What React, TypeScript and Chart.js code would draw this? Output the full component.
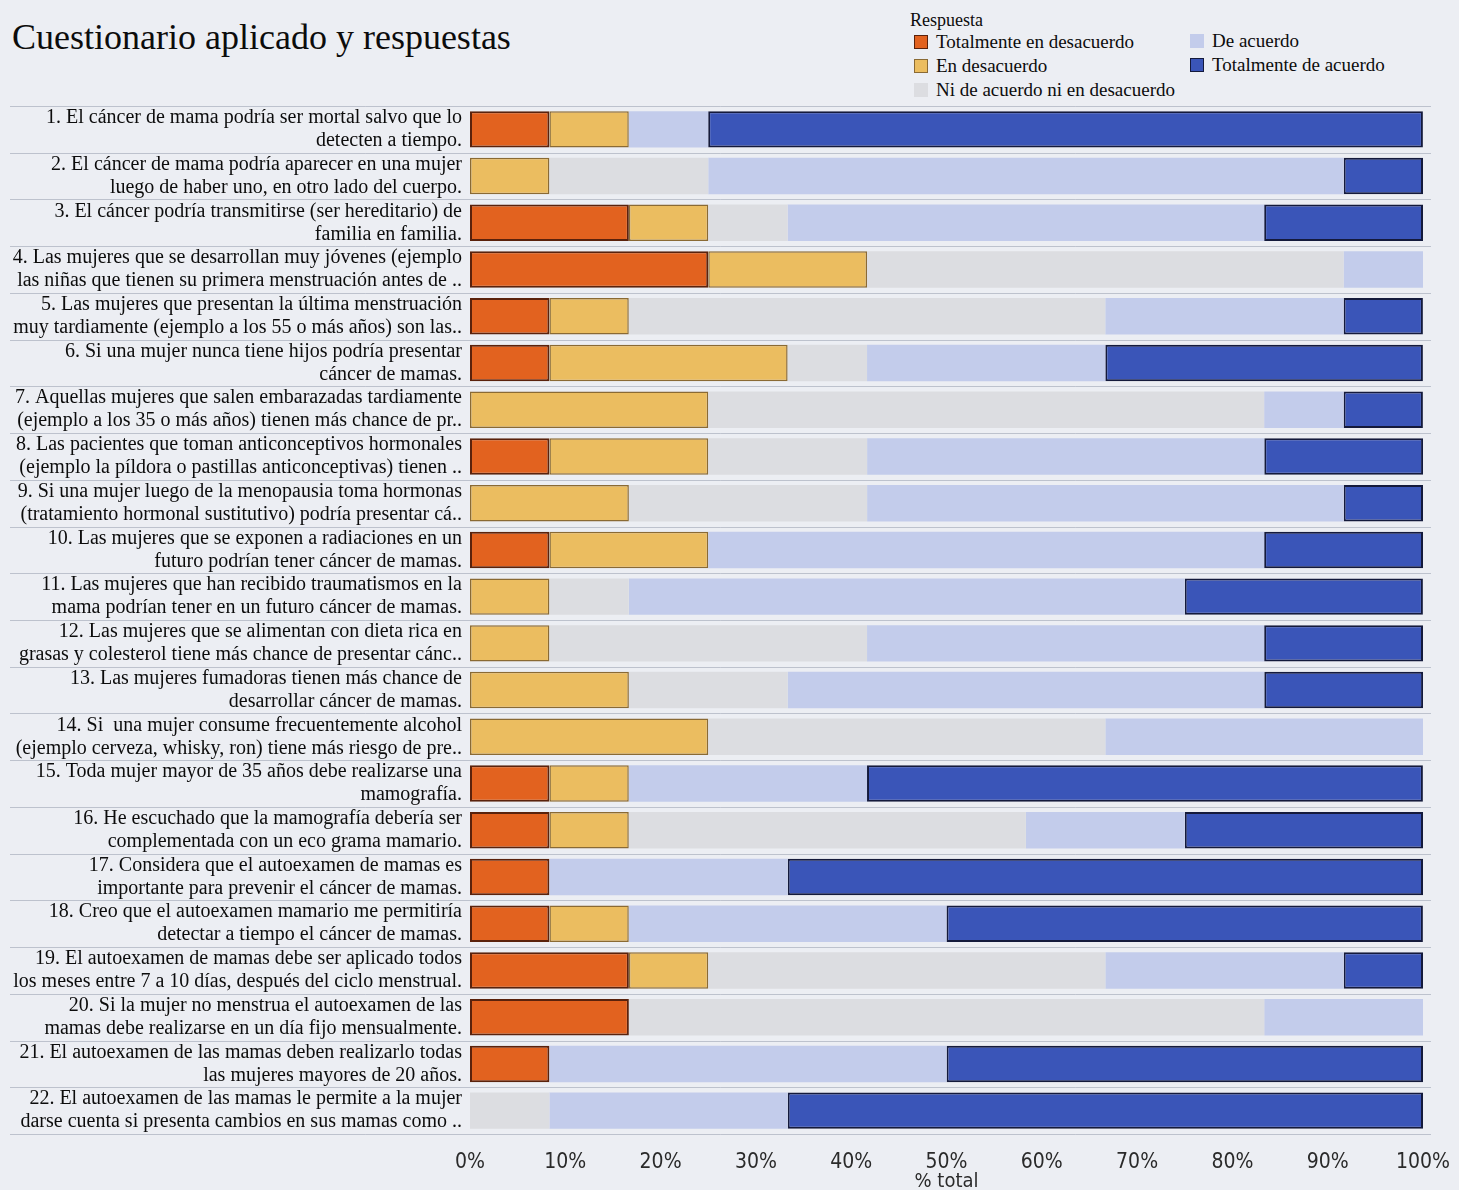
import React, { useEffect, useRef } from "react";
import { Chart, registerables } from "chart.js";

Chart.register(...registerables);

// ---------- data ----------
const questions: string[][] = [
  ["1. El cáncer de mama podría ser mortal salvo que lo", "detecten a tiempo."],
  ["2. El cáncer de mama podría aparecer en una mujer", "luego de haber uno, en otro lado del cuerpo."],
  ["3. El cáncer podría transmitirse (ser hereditario) de", "familia en familia."],
  ["4. Las mujeres que se desarrollan muy jóvenes (ejemplo", "las niñas que tienen su primera menstruación antes de .."],
  ["5. Las mujeres que presentan la última menstruación", "muy tardiamente (ejemplo a los 55 o más años) son las.."],
  ["6. Si una mujer nunca tiene hijos podría presentar", "cáncer de mamas."],
  ["7. Aquellas mujeres que salen embarazadas tardiamente", "(ejemplo a los 35 o más años) tienen más chance de pr.."],
  ["8. Las pacientes que toman anticonceptivos hormonales", "(ejemplo la píldora o pastillas anticonceptivas) tienen .."],
  ["9. Si una mujer luego de la menopausia toma hormonas", "(tratamiento hormonal sustitutivo) podría presentar cá.."],
  ["10. Las mujeres que se exponen a radiaciones en un", "futuro podrían tener cáncer de mamas."],
  ["11. Las mujeres que han recibido traumatismos en la", "mama podrían tener en un futuro cáncer de mamas."],
  ["12. Las mujeres que se alimentan con dieta rica en", "grasas y colesterol tiene más chance de presentar cánc.."],
  ["13. Las mujeres fumadoras tienen más chance de", "desarrollar cáncer de mamas."],
  ["14. Si  una mujer consume frecuentemente alcohol", "(ejemplo cerveza, whisky, ron) tiene más riesgo de pre.."],
  ["15. Toda mujer mayor de 35 años debe realizarse una", "mamografía."],
  ["16. He escuchado que la mamografía debería ser", "complementada con un eco grama mamario."],
  ["17. Considera que el autoexamen de mamas es", "importante para prevenir el cáncer de mamas."],
  ["18. Creo que el autoexamen mamario me permitiría", "detectar a tiempo el cáncer de mamas."],
  ["19. El autoexamen de mamas debe ser aplicado todos", "los meses entre 7 a 10 días, después del ciclo menstrual."],
  ["20. Si la mujer no menstrua el autoexamen de las", "mamas debe realizarse en un día fijo mensualmente."],
  ["21. El autoexamen de las mamas deben realizarlo todas", "las mujeres mayores de 20 años."],
  ["22. El autoexamen de las mamas le permite a la mujer", "darse cuenta si presenta cambios en sus mamas como .."],
];

const seriesNames = [
  "Totalmente en desacuerdo",
  "En desacuerdo",
  "Ni de acuerdo ni en desacuerdo",
  "De acuerdo",
  "Totalmente de acuerdo",
];

// % of total per question
const totalmenteEnDesacuerdo = [8.33, 0, 16.67, 25, 8.33, 8.33, 0, 8.33, 0, 8.33, 0, 0, 0, 0, 8.33, 8.33, 8.33, 8.33, 16.67, 16.67, 8.33, 0];
const enDesacuerdo = [8.33, 8.33, 8.33, 16.67, 8.33, 25, 25, 16.67, 16.67, 16.67, 8.33, 8.33, 16.67, 25, 8.33, 8.33, 0, 8.33, 8.33, 0, 0, 0];
const niDeAcuerdo = [0, 16.67, 8.33, 50, 50, 8.33, 58.33, 16.67, 25, 0, 8.33, 33.33, 16.67, 41.67, 0, 41.67, 0, 0, 41.67, 66.67, 0, 8.33];
const deAcuerdo = [8.33, 66.67, 50, 8.33, 25, 25, 8.33, 41.67, 50, 58.33, 58.33, 41.67, 50, 33.33, 25, 16.67, 25, 33.33, 25, 16.67, 41.67, 25];
const totalmenteDeAcuerdo = [75, 8.33, 16.67, 0, 8.33, 33.33, 8.33, 16.67, 8.33, 16.67, 25, 16.67, 16.67, 0, 58.33, 25, 66.67, 50, 8.33, 0, 50, 66.67];

const xTickValues = [0, 10, 20, 30, 40, 50, 60, 70, 80, 90, 100];

// ---------- styles ----------
const fillColors = ["#E2621F", "#EBBD60", "#DCDDE1", "#C3CCEB", "#3A55B8"];
const borderColors = ["#5a220c", "#8a6a34", "#DCDDE1", "#C3CCEB", "#141a3c"];
const borderWidths = [2, 1.5, 0, 0, 2];
const BG = "#ECEEF3";
const SERIF = "'Liberation Serif', 'Times New Roman', serif";
const NARROW = "'Liberation Sans Narrow', 'DejaVu Sans Condensed', 'Liberation Sans', sans-serif";

const separatorPlugin = {
  id: "rowSeparators",
  beforeDatasetsDraw(chart: any) {
    const { ctx, chartArea } = chart;
    const n = questions.length;
    const step = (chartArea.bottom - chartArea.top) / n;
    ctx.save();
    ctx.strokeStyle = "rgba(165,170,185,0.65)";
    ctx.lineWidth = 1;
    for (let i = 0; i <= n; i++) {
      const y = Math.round(chartArea.top + i * step) + 0.5;
      ctx.beginPath();
      ctx.moveTo(10, y);
      ctx.lineTo(chartArea.right + 8, y);
      ctx.stroke();
    }
    ctx.restore();
  },
};

export default function App() {
  const canvasRef = useRef<HTMLCanvasElement | null>(null);

  useEffect(() => {
    if (!canvasRef.current) return;
    const seriesData = [totalmenteEnDesacuerdo, enDesacuerdo, niDeAcuerdo, deAcuerdo, totalmenteDeAcuerdo];
    const chart = new Chart(canvasRef.current, {
      type: "bar",
      data: {
        labels: questions,
        datasets: seriesNames.map((name, i) => ({
          label: name,
          data: seriesData[i],
          backgroundColor: fillColors[i],
          borderColor: borderColors[i],
          borderWidth: borderWidths[i],
          borderSkipped: false,
          barPercentage: 0.78,
          categoryPercentage: 1,
        })),
      },
      options: {
        indexAxis: "y",
        responsive: false,
        animation: false,
        devicePixelRatio: 1,
        layout: { padding: { top: 106, right: 36, left: 0, bottom: 0 } },
        plugins: {
          legend: { display: false },
          tooltip: { enabled: false },
          title: { display: false },
        },
        scales: {
          x: {
            stacked: true,
            min: 0,
            max: 100,
            grid: { display: false, drawTicks: false },
            border: { display: false },
            afterBuildTicks: (scale: any) => {
              scale.ticks = xTickValues.map((v) => ({ value: v }));
            },
            afterFit: (scale: any) => {
              scale.height = 56;
              scale.paddingRight = 0;
              scale.paddingLeft = 0;
            },
            ticks: {
              callback: (v: any) => v + "%",
              font: { family: NARROW, size: 21 },
              color: "#2a2a2a",
              padding: 16,
              maxRotation: 0,
            },
            title: {
              display: true,
              text: "% total",
              font: { family: NARROW, size: 20 },
              color: "#2a2a2a",
              padding: { top: 0, bottom: -4 },
            },
          },
          y: {
            stacked: true,
            grid: { display: false, drawTicks: false },
            border: { display: false },
            afterFit: (scale: any) => {
              scale.width = 470;
            },
            ticks: {
              autoSkip: false,
              font: { family: SERIF, size: 20, lineHeight: 1.15 },
              color: "#0c0c0c",
              padding: 8,
            },
          },
        },
      },
      plugins: [separatorPlugin],
    } as any);
    return () => chart.destroy();
  }, []);

  const legendItem = (i: number, left: number, top: number) => (
    <div key={i} style={{ position: "absolute", left, top, height: 22, display: "flex", alignItems: "center" }}>
      <div
        style={{
          width: 14,
          height: 14,
          boxSizing: "border-box",
          background: fillColors[i],
          border: borderWidths[i] > 0 ? `1.5px solid ${borderColors[i]}` : "none",
          marginRight: 8,
        }}
      />
      <span style={{ fontFamily: SERIF, fontSize: 19, color: "#0c0c0c", whiteSpace: "nowrap" }}>{seriesNames[i]}</span>
    </div>
  );

  return (
    <div style={{ position: "absolute", left: 0, top: 0, width: 1459, height: 1190, background: BG, overflow: "hidden" }}>
      <div
        style={{
          position: "absolute",
          left: 12,
          top: 17,
          fontFamily: SERIF,
          fontSize: 36,
          lineHeight: "40px",
          color: "#0c0c0c",
          whiteSpace: "nowrap",
        }}
      >
        Cuestionario aplicado y respuestas
      </div>
      <div
        style={{ position: "absolute", left: 910, top: 9, fontFamily: SERIF, fontSize: 18, lineHeight: "22px", color: "#0c0c0c" }}
      >
        Respuesta
      </div>
      {legendItem(0, 914, 31)}
      {legendItem(1, 914, 55)}
      {legendItem(2, 914, 79)}
      {legendItem(3, 1190, 30)}
      {legendItem(4, 1190, 54)}
      <canvas ref={canvasRef} width={1459} height={1190} style={{ position: "absolute", left: 0, top: 0 }} />
    </div>
  );
}
